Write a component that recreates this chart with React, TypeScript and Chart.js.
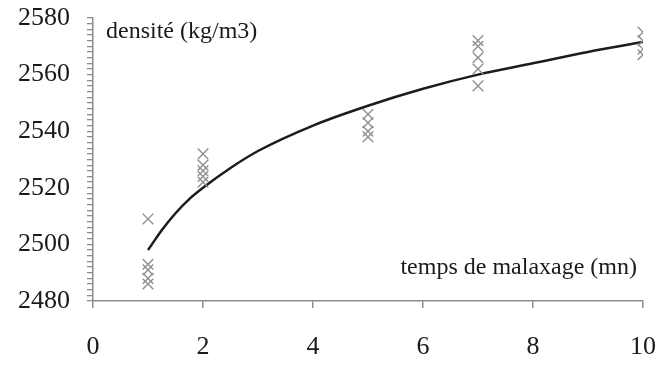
import React, { useEffect, useRef } from "react";
import { Chart, registerables } from "chart.js";

Chart.register(...registerables);

// Mixing time (minutes) at which density was measured
const mixingTimes = [1, 2, 5, 7, 10];
// Measured densities (kg/m3) for each mixing time
const densityAt1 = [2509, 2493, 2491, 2488, 2486];
const densityAt2 = [2532, 2528, 2526, 2524, 2522];
const densityAt5 = [2546, 2543, 2540, 2538];
const densityAt7 = [2572, 2570, 2566, 2562, 2556];
const densityAt10 = [2575, 2572, 2569, 2567];

// Trend curve through the measurements
const trendTimes = [1, 1.25, 1.5, 1.75, 2, 2.5, 3, 4, 5, 6, 7, 8, 9, 10];
const trendDensity = [2498, 2505, 2511, 2516, 2520, 2527, 2533, 2542, 2549, 2555, 2560, 2564, 2568, 2571.5];

const yTickLabels = [2480, 2500, 2520, 2540, 2560, 2580];
const xTickLabels = [0, 2, 4, 6, 8, 10];

const yLabel = "densité (kg/m3)";
const xLabel = "temps de malaxage (mn)";

const FONT = "'Liberation Serif', 'Times New Roman', serif";
const AXIS_COLOR = "#8c8c8c";
const MARK_COLOR = "#909090";

const measurementGroups = [densityAt1, densityAt2, densityAt5, densityAt7, densityAt10];

export default function App() {
  const canvasRef = useRef<HTMLCanvasElement | null>(null);

  useEffect(() => {
    const canvas = canvasRef.current;
    if (!canvas) return;

    const measured = measurementGroups.flatMap((group, i) =>
      group.map((d) => ({ x: mixingTimes[i], y: d }))
    );
    const trend = trendTimes.map((t, i) => ({ x: t, y: trendDensity[i] }));

    const axisTitles = {
      id: "axisTitles",
      afterDraw(chart: Chart) {
        const ctx = chart.ctx;
        ctx.save();
        ctx.fillStyle = "#1a1a1a";
        ctx.font = `24px ${FONT}`;
        ctx.textBaseline = "alphabetic";
        ctx.textAlign = "left";
        ctx.fillText(yLabel, 106, 38);
        ctx.textAlign = "right";
        ctx.fillText(xLabel, 637, 274);
        ctx.restore();
      },
    };

    const chart = new Chart(canvas, {
      type: "scatter",
      data: {
        datasets: [
          {
            label: "mesures",
            data: measured,
            pointStyle: "crossRot",
            pointRadius: 7.5,
            pointBorderWidth: 1.4,
            borderColor: MARK_COLOR,
            backgroundColor: MARK_COLOR,
            showLine: false,
          },
          {
            label: "tendance",
            data: trend,
            showLine: true,
            pointRadius: 0,
            borderColor: "#1c1c1c",
            borderWidth: 2.5,
            cubicInterpolationMode: "monotone",
          },
        ],
      },
      plugins: [axisTitles],
      options: {
        animation: false,
        responsive: false,
        maintainAspectRatio: false,
        layout: { padding: { top: 18, right: 13, left: 0, bottom: 0 } },
        plugins: {
          legend: { display: false },
          tooltip: { enabled: false },
        },
        scales: {
          x: {
            type: "linear",
            min: 0,
            max: 10,
            afterFit: (s: any) => {
              s.height = 68;
              s.paddingLeft = 0;
              s.paddingRight = 0;
            },
            afterBuildTicks: (s: any) => {
              s.ticks = xTickLabels.map((v) => ({ value: v }));
            },
            ticks: {
              color: "#1a1a1a",
              font: { family: FONT, size: 26 },
              padding: 24,
              maxRotation: 0,
              autoSkip: false,
            },
            grid: {
              drawOnChartArea: false,
              drawTicks: true,
              tickLength: 7,
              color: AXIS_COLOR,
              lineWidth: 1.5,
            },
            border: { display: true, color: AXIS_COLOR, width: 1.5 },
          },
          y: {
            type: "linear",
            min: 2480,
            max: 2580,
            afterFit: (s: any) => {
              s.width = 93;
              s.paddingTop = 0;
              s.paddingBottom = 0;
            },
            ticks: {
              stepSize: 2,
              autoSkip: false,
              color: "#1a1a1a",
              font: { family: FONT, size: 26 },
              padding: 17,
              callback: (v: any) => (yTickLabels.includes(Number(v)) ? String(v) : ""),
            },
            grid: {
              drawOnChartArea: false,
              drawTicks: true,
              tickLength: 6,
              color: AXIS_COLOR,
              lineWidth: 1.3,
            },
            border: { display: true, color: AXIS_COLOR, width: 1.5 },
          },
        },
      },
    });

    return () => chart.destroy();
  }, []);

  return (
    <div style={{ position: "fixed", left: 0, top: 0, width: 656, height: 369, background: "#fff" }}>
      <canvas ref={canvasRef} width={656} height={369} style={{ width: 656, height: 369 }} />
    </div>
  );
}
